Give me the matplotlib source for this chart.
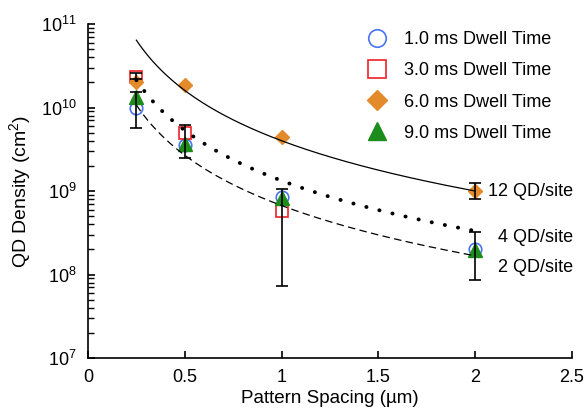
import numpy as np
import matplotlib
matplotlib.use("Agg")
import matplotlib.pyplot as plt
from matplotlib.ticker import LogLocator, NullFormatter

plt.rcParams['font.family'] = ['Liberation Sans', 'DejaVu Sans']
plt.rcParams['mathtext.fontset'] = 'custom'
plt.rcParams['mathtext.rm'] = 'Liberation Sans'

# measured densities (cm^-2) vs pattern spacing (um)
spacing = [0.25, 0.5, 1.0, 2.0]
dwell_1ms = [1.0e10, 3.55e9, 8.5e8, 2.0e8]
dwell_3ms = [2.3e10, 4.95e9, 5.7e8, np.nan]
dwell_6ms = [2.0e10, 1.86e10, 4.45e9, 1.0e9]
dwell_9ms = [1.35e10, 3.7e9, 8.2e8, 1.95e8]

# error bars (x, centre, low, high)
err_x = [0.25, 0.25, 0.5, 1.0, 2.0, 2.0]
err_mid = [2.3e10, 1.0e10, 3.55e9, 8.5e8, 1.0e9, 2.0e8]
err_low = [2.19e10, 5.7e9, 2.48e9, 7.3e7, 8.1e8, 8.6e7]
err_high = [2.59e10, 1.53e10, 6.2e9, 1.06e9, 1.24e9, 3.23e8]

# fit curves: density = coeff / spacing^2
fit_labels = ["12 QD/site", "4 QD/site", "2 QD/site"]
fit_coeff = [4.0e9, 1.33e9, 6.7e8]

fig = plt.figure(figsize=(5.85, 4.16), dpi=100)
ax = fig.add_axes([0.1504, 0.1394, 0.8274, 0.8029])

xs = np.linspace(0.25, 2.0, 300)
ax.plot(xs, fit_coeff[0] / xs**2, color='black', lw=0.9, zorder=4)
ax.plot(xs, fit_coeff[1] / xs**2, color='black', lw=2.8,
        linestyle=(0, (0.05, 3.4)), dash_capstyle='round', zorder=4)
ax.plot(xs, fit_coeff[2] / xs**2, color='black', lw=0.9,
        linestyle=(0, (6, 3.5)), zorder=4)

ms = 9
ax.plot(spacing, dwell_1ms, 'o', ms=ms, mfc='none', mec='#4a72f2', mew=1.2,
        ls='none', label='1.0 ms Dwell Time', zorder=3)
ax.plot(spacing, dwell_3ms, 's', ms=ms, mfc='none', mec='#ec2027', mew=1.2,
        ls='none', label='3.0 ms Dwell Time', zorder=3)
ax.plot(spacing, dwell_6ms, 'D', ms=ms * 0.8, mfc='#e38a2b', mec='#e38a2b',
        ls='none', label='6.0 ms Dwell Time', zorder=3)
ax.plot(spacing, dwell_9ms, '^', ms=ms * 1.05, mfc='#1c8c1c', mec='#1c8c1c',
        ls='none', label='9.0 ms Dwell Time', zorder=3)

mid = np.array(err_mid)
yerr = [mid - np.array(err_low), np.array(err_high) - mid]
ax.errorbar(err_x, err_mid, yerr=yerr, fmt='none', ecolor='black',
            elinewidth=1.2, capsize=4, capthick=1.2, zorder=5)

ax.text(2.065, fit_coeff[0] / 4, fit_labels[0], fontsize=13, va='center')
ax.text(2.12, 2.8e8, fit_labels[1], fontsize=13, va='center')
ax.text(2.12, 1.23e8, fit_labels[2], fontsize=13, va='center')

ax.set_yscale('log')
ax.set_xlim(0, 2.5)
ax.set_ylim(1e7, 1e11)
ax.set_xticks([0, 0.5, 1, 1.5, 2, 2.5])
ax.set_xticklabels(['0', '0.5', '1', '1.5', '2', '2.5'])
ax.yaxis.set_major_locator(LogLocator(base=10, numticks=10))
ax.yaxis.set_minor_locator(LogLocator(base=10, subs=np.arange(2, 10), numticks=10))
ax.yaxis.set_minor_formatter(NullFormatter())

for side in ['top', 'right']:
    ax.spines[side].set_visible(False)
for side in ['left', 'bottom']:
    ax.spines[side].set_linewidth(1.2)
ax.tick_params(axis='both', which='major', direction='in', length=5, width=1.2,
               labelsize=13)
ax.tick_params(axis='x', pad=8)
ax.tick_params(axis='y', pad=8)
ax.tick_params(axis='y', which='minor', direction='in', length=4, width=1.0)

ax.set_xlabel('Pattern Spacing (µm)', fontsize=13.5, labelpad=3)
ax.set_ylabel('QD Density (cm$^2$)', fontsize=14, labelpad=5)

ax.legend(loc='upper left', bbox_to_anchor=(0.578, 0.978), frameon=False,
          fontsize=13, markerscale=1.4, handlelength=1.0, handletextpad=1.0,
          labelspacing=0.78, borderpad=0, borderaxespad=0)

fig.savefig('out.png', dpi=100)
